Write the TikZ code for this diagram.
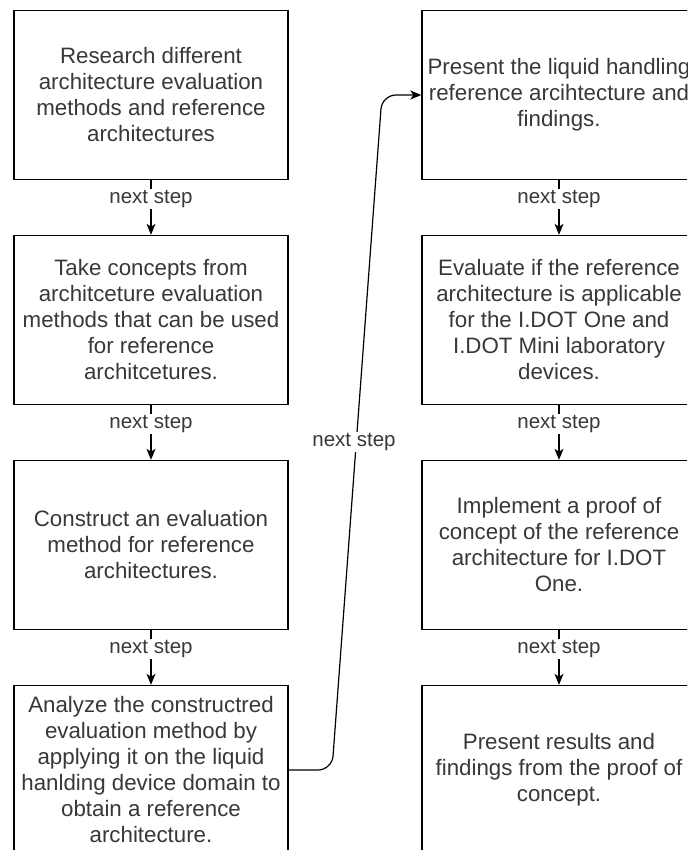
\documentclass[tikz,border=0pt]{standalone}
\usepackage{fontspec}
\setmainfont{Liberation Sans}
\usetikzlibrary{arrows.meta}
\begin{document}
\begin{tikzpicture}[x=1pt,y=-1pt,
  stepbox/.style={draw=black,line width=1.4pt,fill=white,rectangle,
    minimum width=274pt,minimum height=169pt,inner sep=0pt,
    align=center,text=black!78,font=\fontsize{22.3}{26}\selectfont},
  flow/.style={draw=black,line width=1.2pt,-{Stealth[length=11pt,width=9pt,inset=3pt]}},
  steplabel/.style={fill=white,text=black!78,inner sep=1pt,
    font=\fontsize{20.5}{24}\selectfont}]
\useasboundingbox (0,0) rectangle (687,850);
\clip (0,0) rectangle (687,850);
% left column
\node[stepbox] (l1) at (151,95) {Research different\\architecture evaluation\\methods and reference\\architectures};
\node[stepbox] (l2) at (151,320) {Take concepts from\\architceture evaluation\\methods that can be used\\for reference\\architcetures.};
\node[stepbox] (l3) at (151,545) {Construct an evaluation\\method for reference\\architectures.};
\node[stepbox] (l4) at (151,770) {Analyze the constructred\\evaluation method by\\applying it on the liquid\\hanlding device domain to\\obtain a reference\\architecture.};
% right column
\node[stepbox] (r1) at (559,95) {Present the liquid handling\\reference arcihtecture and\\findings.};
\node[stepbox] (r2) at (559,320) {Evaluate if the reference\\architecture is applicable\\for the I.DOT One and\\I.DOT Mini laboratory\\devices.};
\node[stepbox] (r3) at (559,545) {Implement a proof of\\concept of the reference\\architecture for I.DOT\\One.};
\node[stepbox] (r4) at (559,770) {Present results and\\findings from the proof of\\concept.};
% vertical steps
\foreach \a/\b in {l1/l2,l2/l3,l3/l4,r1/r2,r2/r3,r3/r4}{
  \draw[flow] (\a.south) -- node[steplabel,pos=0.34]{next step} (\b.north);
}
% crossing step from the left column to the right column
\coordinate (c1) at (332,770);
\coordinate (c2) at (382,95);
\draw[flow,rounded corners=14pt] (l4.east) -- (c1) -- (c2) -- (r1.west);
\node[steplabel] (lbl) at (354,442) {next step};
\end{tikzpicture}
\end{document}
